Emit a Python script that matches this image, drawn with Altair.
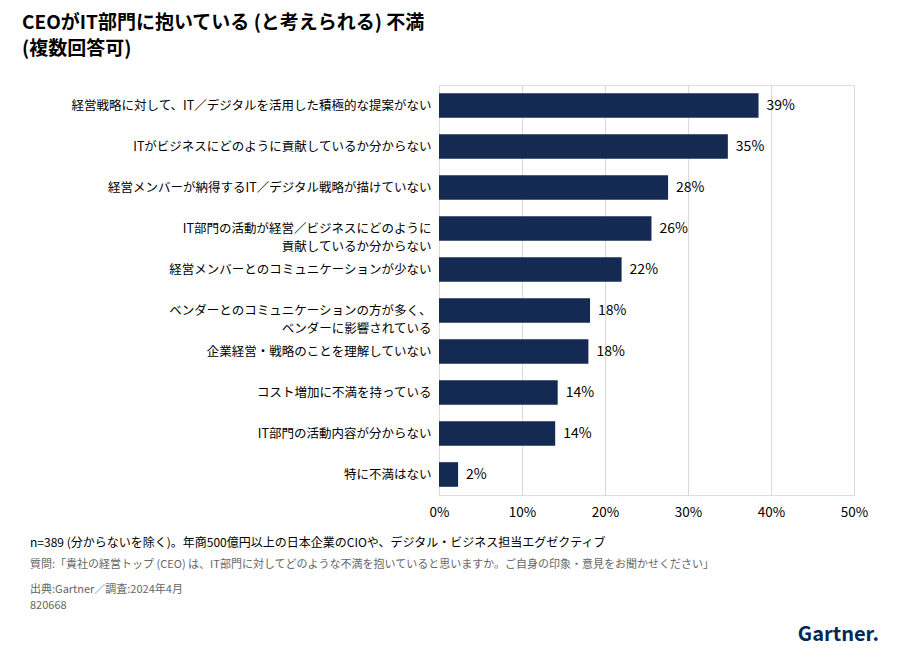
import altair as alt
import pandas as pd

cats = ["経営戦略に対して、IT／デジタルを活用した積極的な提案がない",
        "ITがビジネスにどのように貢献しているか分からない",
        "経営メンバーが納得するIT／デジタル戦略が描けていない",
        "IT部門の活動が経営／ビジネスにどのように\n貢献しているか分からない",
        "経営メンバーとのコミュニケーションが少ない",
        "ベンダーとのコミュニケーションの方が多く、\nベンダーに影響されている",
        "企業経営・戦略のことを理解していない",
        "コスト増加に不満を持っている",
        "IT部門の活動内容が分からない",
        "特に不満はない"]
vals = [38.5, 34.8, 27.6, 25.6, 22.0, 18.2, 18.0, 14.3, 14.0, 2.3]
labels = ["39%", "35%", "28%", "26%", "22%", "18%", "18%", "14%", "14%", "2%"]

df = pd.DataFrame({"cat": cats, "v": vals, "lab": labels})
FONT = "Noto Sans CJK JP"

y = alt.Y("cat:N", sort=cats, title=None,
          scale=alt.Scale(paddingInner=0.4, paddingOuter=0.2),
          axis=alt.Axis(labelExpr="split(datum.label, '\\n')", labelFontSize=12.5,
                        labelColor="#000", labelPadding=8, ticks=False, domain=False,
                        labelLineHeight=18, labelFont=FONT, labelLimit=500))
x = alt.X("v:Q", title=None, scale=alt.Scale(domain=[0, 50]),
          axis=alt.Axis(values=[0, 10, 20, 30, 40, 50], labelExpr="datum.value + '%'",
                        labelFontSize=13.5, labelColor="#000", ticks=False, domain=False,
                        labelFlush=False,
                        grid=True, gridColor="#d9d9d9", labelPadding=10, labelFont=FONT))

base = alt.Chart(df)
bars = base.mark_bar(color="#142a52").encode(x=x, y=y)
txt = base.mark_text(align="left", dx=8, fontSize=14, font=FONT, color="#000").encode(
    x="v:Q", y=alt.Y("cat:N", sort=cats), text="lab:N")

notes = [
    ("CEOがIT部門に抱いている (と考えられる) 不満", -417, -62, 19, "bold", "#000", "left"),
    ("(複数回答可)", -417, -36, 19, "bold", "#000", "left"),
    ("n=389 (分からないを除く)。年商500億円以上の日本企業のCIOや、デジタル・ビジネス担当エグゼクティブ", -409, 458, 12, "normal", "#000", "left"),
    ("質問:「貴社の経営トップ (CEO) は、IT部門に対してどのような不満を抱いていると思いますか。ご自身の印象・意見をお聞かせください」", -409, 480, 11, "normal", "#666", "left"),
    ("出典:Gartner／調査:2024年4月", -409, 505, 11, "normal", "#666", "left"),
    ("820668", -409, 521, 11, "normal", "#666", "left"),
    ("Gartner.", 440, 550, 20, "bold", "#002856", "right"),
]
layers = [bars, txt]
for t, xx, yy, fs, fw, c, al in notes:
    layers.append(alt.Chart(pd.DataFrame({"t": [t]})).mark_text(
        align=al, baseline="middle", fontSize=fs, fontWeight=fw, color=c, font=FONT).encode(
        text="t:N", x=alt.value(xx), y=alt.value(yy)))

chart = alt.layer(*layers).properties(
    width=415, height=410, autosize="none",
    padding={"left": 431, "top": 77, "right": 30, "bottom": 150}
).configure_view(stroke=None).configure(background="white")
chart.save("out.html", embed_options={"renderer": "svg", "actions": False})
